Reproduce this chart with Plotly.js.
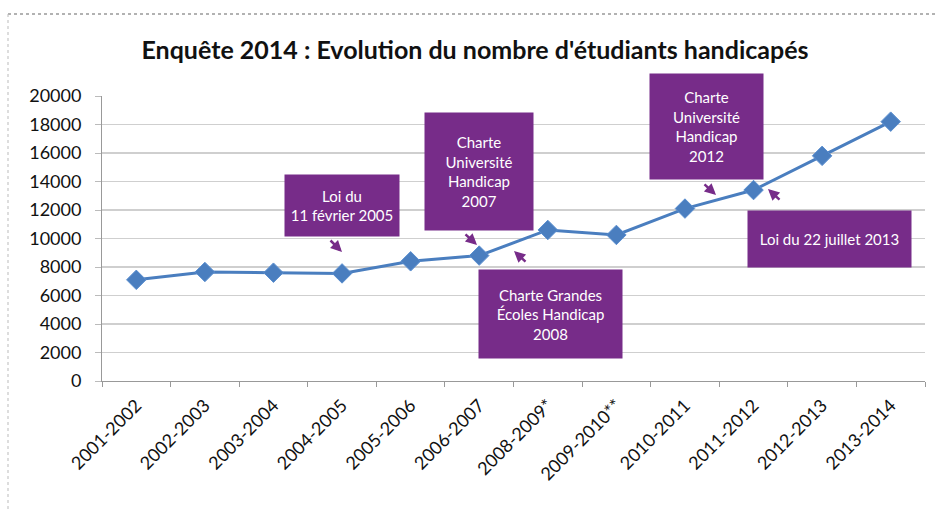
<!DOCTYPE html>
<html>
<head>
<meta charset="utf-8">
<script src="https://cdn.plot.ly/plotly-3.0.1.min.js"></script>
<style>html,body{margin:0;padding:0;background:#fff;}#chart{width:938px;height:511px;}</style>
</head>
<body>
<div id="chart"></div>
<script>
// Data
const categories = ["2001-2002","2002-2003","2003-2004","2004-2005","2005-2006","2006-2007","2008-2009*","2009-2010**","2010-2011","2011-2012","2012-2013","2013-2014"];
const students = [7100, 7650, 7600, 7550, 8400, 8800, 10600, 10250, 12100, 13400, 15800, 18200];
const yTicks = [0,2000,4000,6000,8000,10000,12000,14000,16000,18000,20000];

// Annotation texts
const noteTexts = [
  "Loi du<br>11 février 2005",
  "Charte<br>Université<br>Handicap<br>2007",
  "Charte Grandes<br>Écoles Handicap<br>2008",
  "Charte<br>Université<br>Handicap<br>2012",
  "Loi du 22 juillet 2013"
];

// Layout geometry
const W = 938, H = 511;
const M = {l: 102, r: 13, t: 96, b: 130};
const plotW = W - M.l - M.r, plotH = H - M.t - M.b;
const yMax = 20000;
const px2x = px => -0.5 + (px - M.l) / plotW * categories.length;
const py2y = py => (H - M.b - py) / plotH * yMax;

const purple = "#772c89";
// boxes: [left, top, right, bottom] in pixels
const boxes = [
  [285, 175, 399, 236],
  [425, 113, 533, 230],
  [479, 270, 622, 358],
  [650, 74, 763, 179],
  [748, 211, 911, 267]
];
const annotations = boxes.map((b, i) => ({
  x: px2x((b[0] + b[2]) / 2), y: py2y((b[1] + b[3]) / 2),
  xref: "x", yref: "y", xanchor: "center", yanchor: "middle",
  text: noteTexts[i], showarrow: false,
  width: b[2] - b[0], height: b[3] - b[1],
  bgcolor: purple, borderpad: 0,
  font: {family: "Lato, 'Open Sans', sans-serif", size: 15, color: "#ffffff"}
}));
// small arrows: [headX, headY, tailDx, tailDy]
const arrows = [
  [342, 252, -13, -13],
  [477, 245, -13, -12],
  [514, 251, 13, 12],
  [716, 195, -13, -12],
  [768, 189, 13, 12]
];
arrows.forEach(a => annotations.push({
  x: px2x(a[0]), y: py2y(a[1]), xref: "x", yref: "y",
  ax: a[2], ay: a[3], text: "", showarrow: true,
  arrowhead: 2, arrowsize: 0.9, arrowwidth: 2.5, arrowcolor: purple, standoff: 0
}));

const trace = {
  x: categories.map((c, i) => i),
  y: students,
  type: "scatter",
  mode: "lines+markers",
  line: {color: "#4a7ebf", width: 3},
  marker: {symbol: "diamond", size: 15, color: "#4a7ebf", line: {color: "#5b8fd0", width: 1}},
  hoverinfo: "skip"
};

const boundaries = [];
for (let i = 0; i <= categories.length; i++) boundaries.push(i - 0.5);

const layout = {
  width: W, height: H,
  margin: M,
  paper_bgcolor: "#ffffff", plot_bgcolor: "#ffffff",
  showlegend: false,
  title: {
    text: "<b>Enquête 2014 : Evolution du nombre d'étudiants handicapés</b>",
    x: 475 / W, xref: "container", xanchor: "center",
    y: 1 - 50 / H, yref: "container", yanchor: "middle",
    font: {family: "Lato, 'Liberation Sans', sans-serif", size: 25, color: "#111"}
  },
  xaxis: {
    range: [-0.5, categories.length - 0.5],
    tickmode: "array", tickvals: categories.map((c, i) => i), ticktext: categories,
    tickangle: -45,
    tickfont: {family: "Lato, 'Liberation Sans', sans-serif", size: 18, color: "#111"},
    ticklabelstandoff: 6,
    showgrid: false, zeroline: false,
    showline: true, linecolor: "#999", linewidth: 1,
    ticks: "",
    minor: {tickmode: "array", tickvals: boundaries, ticks: "outside", ticklen: 5, tickcolor: "#999", showgrid: false}
  },
  yaxis: {
    range: [0, yMax], tickmode: "array", tickvals: yTicks, ticktext: yTicks.map(String),
    tickfont: {family: "Lato, 'Liberation Sans', sans-serif", size: 18, color: "#111"},
    ticklabelstandoff: 10,
    showgrid: true, gridcolor: "#cfcfcf", gridwidth: 1.5,
    zeroline: false, showline: true, linecolor: "#999", linewidth: 1,
    ticks: "outside", ticklen: 6, tickcolor: "#bbb"
  },
  annotations: annotations,
  shapes: [
    {type: "line", xref: "paper", yref: "paper",
     x0: (8 - M.l) / plotW, x1: (W - M.l) / plotW,
     y0: (H - M.b - 14) / plotH, y1: (H - M.b - 14) / plotH,
     line: {color: "#999", width: 1.5, dash: "dot"}},
    {type: "line", xref: "paper", yref: "paper",
     x0: (8 - M.l) / plotW, x1: (8 - M.l) / plotW,
     y0: (H - M.b - 14) / plotH, y1: (H - M.b - H) / plotH,
     line: {color: "#bbb", width: 1, dash: "dot"}}
  ]
};

Plotly.newPlot("chart", [trace], layout, {staticPlot: true, displayModeBar: false});
</script>
</body>
</html>
